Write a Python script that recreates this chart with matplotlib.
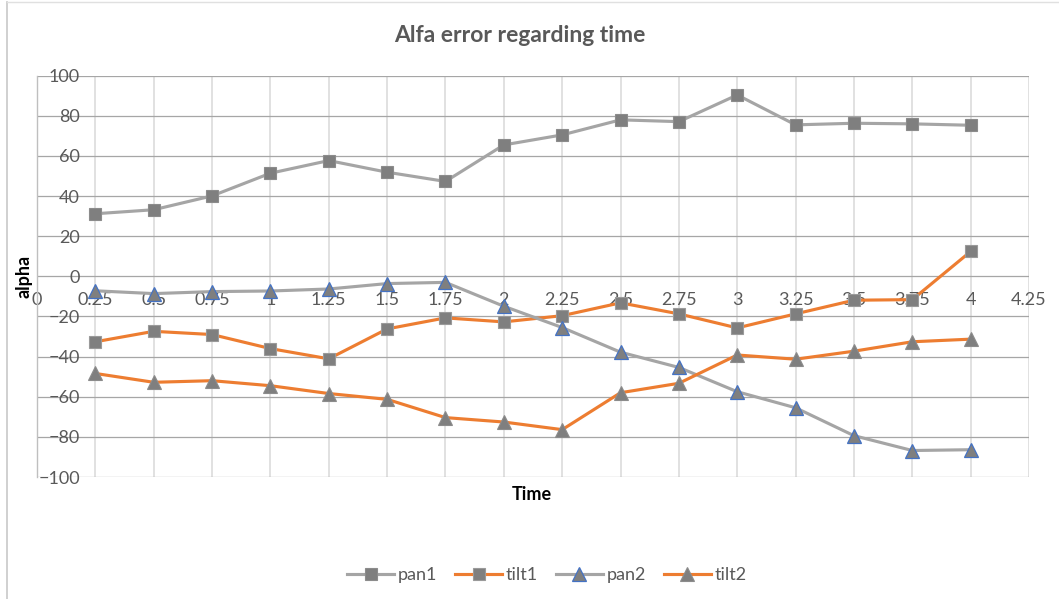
import matplotlib
matplotlib.use("Agg")
import matplotlib.pyplot as plt
from matplotlib.lines import Line2D

# Sample times (s)
time = [0.25, 0.5, 0.75, 1.0, 1.25, 1.5, 1.75, 2.0, 2.25, 2.5, 2.75, 3.0, 3.25, 3.5, 3.75, 4.0]

# Alfa error per channel
pan1 = [31.2, 33.2, 40.1, 51.4, 57.7, 51.9, 47.3, 65.5, 70.5, 78.0, 77.1, 90.4, 75.5, 76.3, 76.0, 75.3]
tilt1 = [-32.6, -27.4, -29.0, -36.0, -41.1, -26.2, -20.7, -22.7, -19.6, -13.2, -18.7, -25.7, -18.7, -11.9, -11.6, 12.4]
pan2 = [-7.2, -8.6, -7.6, -7.3, -6.3, -3.6, -3.0, -14.9, -25.5, -37.8, -45.4, -57.5, -65.5, -79.4, -86.8, -86.4]
tilt2 = [-48.4, -52.8, -52.0, -54.5, -58.4, -61.3, -70.4, -72.6, -76.4, -58.0, -53.3, -39.2, -41.3, -37.3, -32.6, -31.3]

x_ticks = [0, 0.25, 0.5, 0.75, 1, 1.25, 1.5, 1.75, 2, 2.25, 2.5, 2.75, 3, 3.25, 3.5, 3.75, 4, 4.25]
x_tick_labels = ["0", "0.25", "0.5", "0.75", "1", "1.25", "1.5", "1.75", "2", "2.25",
                 "2.5", "2.75", "3", "3.25", "3.5", "3.75", "4", "4.25"]
y_ticks = [-100, -80, -60, -40, -20, 0, 20, 40, 60, 80, 100]

GRAY_LINE = "#A5A5A5"
ORANGE = "#ED7D31"
MARKER = "#7F7F7F"
BLUE_EDGE = "#4472C4"
TEXT = "#595959"

plt.rcParams["font.family"] = ["Lato", "DejaVu Sans"]

W, H = 1059, 599
fig = plt.figure(figsize=(W / 100, H / 100), dpi=100)
ax = fig.add_axes([37 / W, 1 - 477 / H, (1029 - 37) / W, (477 - 75.7) / H])

# outer chart frame (left and top edges)
fig.add_artist(Line2D([7 / W, 7 / W], [0, 1 - 2 / H], transform=fig.transFigure,
                      color="#C8C8C8", lw=1.2))
fig.add_artist(Line2D([7 / W, 1], [1 - 2 / H, 1 - 2 / H], transform=fig.transFigure,
                      color="#E0E0E0", lw=1.0))

lw = 2.25
ms = 8.5
ax.plot(time, pan1, color=GRAY_LINE, lw=lw, marker="s", ms=ms, mfc=MARKER, mec="#8C8C8C",
        mew=0.8, label="pan1", zorder=3)
ax.plot(time, tilt1, color=ORANGE, lw=lw, marker="s", ms=ms, mfc=MARKER, mec="#9A9A9A",
        mew=0.8, label="tilt1", zorder=3)
ax.plot(time, pan2, color=GRAY_LINE, lw=lw, marker="^", ms=ms + 1, mfc=MARKER, mec=BLUE_EDGE,
        mew=0.9, label="pan2", zorder=3)
ax.plot(time, tilt2, color=ORANGE, lw=lw, marker="^", ms=ms + 1, mfc=MARKER, mec="#8C8C8C",
        mew=0.8, label="tilt2", zorder=3)

ax.set_xlim(0, 4.25)
ax.set_ylim(-100, 100)
ax.set_xticks(x_ticks)
ax.set_xticklabels(x_tick_labels)
ax.set_yticks(y_ticks)
ax.set_yticklabels([str(v) if v >= 0 else "\u2212" + str(-v) for v in y_ticks])

# gridlines: darker horizontals, lighter verticals
for v in y_ticks:
    ax.axhline(v, color="#A6A6A6", lw=0.9, zorder=1)
for v in x_ticks[1:]:
    ax.axvline(v, color="#D9D9D9", lw=1.1, zorder=0.9)

for s in ["top", "right", "bottom"]:
    ax.spines[s].set_visible(False)
ax.spines["left"].set_color("#BFBFBF")
ax.spines["left"].set_linewidth(1.0)

# x tick labels sit just under the zero line; y labels inside the first column
ax.xaxis.set_ticks_position("bottom")
ax.spines["bottom"].set_position(("data", 0))
ax.tick_params(axis="x", length=0, pad=11, labelsize=13, labelcolor=TEXT)
ax.tick_params(axis="y", length=0, pad=-31, labelsize=13, labelcolor=TEXT)

fig.text(520 / W, 1 - 35 / H, "Alfa error regarding time", ha="center", va="center",
         fontsize=16.5, fontweight="bold", color=TEXT)
fig.text(24 / W, 1 - 276 / H, "alpha", ha="center", va="center", rotation=90,
         fontsize=13, fontweight="bold", color="black")
fig.text(532 / W, 1 - 494 / H, "Time", ha="center", va="center",
         fontsize=13, fontweight="bold", color="black")

fig.legend(loc="center", bbox_to_anchor=(547 / W, 1 - 575 / H), ncol=4, frameon=False,
           fontsize=13, handlelength=2.6, columnspacing=1.0, handletextpad=0.2,
           labelcolor=TEXT)

fig.savefig("out.png", dpi=100, facecolor="white")
